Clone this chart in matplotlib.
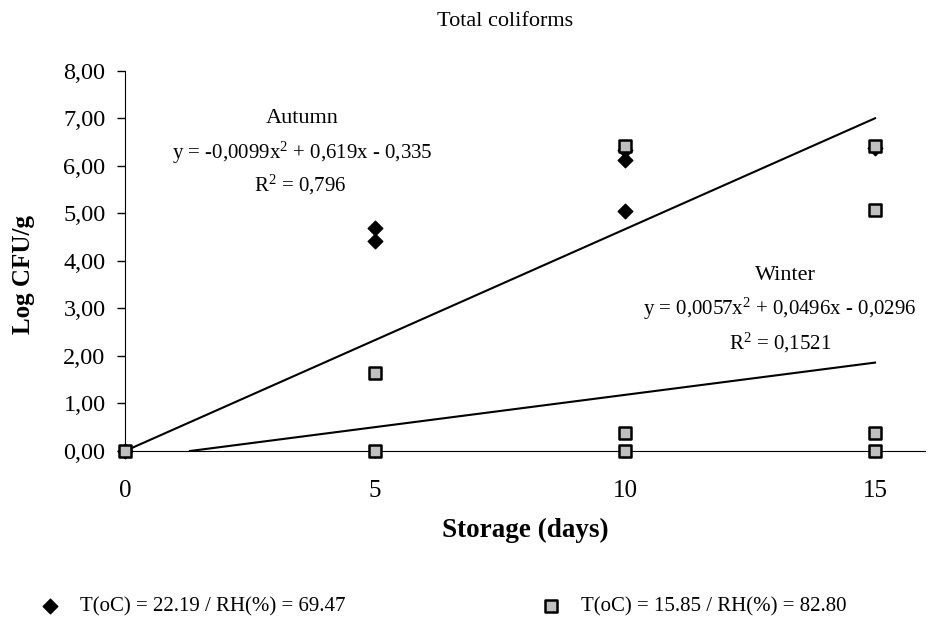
"""Total coliforms during storage: autumn vs winter, with trend lines."""
import matplotlib
matplotlib.use("Agg")
import matplotlib.pyplot as plt
from matplotlib.ticker import FuncFormatter

plt.rcParams["font.family"] = ["Liberation Serif", "DejaVu Serif"]
plt.rcParams["mathtext.fontset"] = "custom"
plt.rcParams["mathtext.rm"] = "Liberation Serif"
plt.rcParams["mathtext.it"] = "Liberation Serif:italic"

# autumn samples (T = 22.19 C, RH = 69.47 %)
autumn_days = [0, 5, 5, 10, 10, 10, 15]
autumn_log = [0.0, 4.70, 4.42, 6.33, 6.12, 5.05, 6.38]

# winter samples (T = 15.85 C, RH = 82.80 %)
winter_days = [0, 5, 5, 10, 10, 10, 15, 15, 15, 15]
winter_log = [0.0, 1.65, 0.0, 6.41, 0.37, 0.0, 6.41, 5.06, 0.37, 0.0]

# trend lines as drawn in the figure
autumn_fit_x = [0, 15]
autumn_fit_y = [0.0, 7.0]
winter_fit_x = [1.3, 15]
winter_fit_y = [0.0, 1.86]

y_ticks = [0, 1, 2, 3, 4, 5, 6, 7, 8]
x_ticks = [0, 5, 10, 15]

fig = plt.figure(figsize=(9.51, 6.22), dpi=100)
ax = fig.add_axes([0.1314, 0.2749, 0.8413, 0.6114])

ax.plot(autumn_fit_x, autumn_fit_y, color="black", lw=1.5, zorder=2)
ax.plot(winter_fit_x, winter_fit_y, color="black", lw=1.5, zorder=2)

ax.scatter(autumn_days, autumn_log, marker="D", s=55, color="black",
           zorder=3, clip_on=False,
           label="T(oC) = 22.19 / RH(%) = 69.47")
ax.scatter(winter_days, winter_log, marker="s", s=70, facecolor="#c0c0c0",
           edgecolor="black", linewidth=1.8, zorder=4, clip_on=False,
           label="T(oC) = 15.85 / RH(%) = 82.80")

ax.set_xlim(0, 16)
ax.set_ylim(0, 8)
ax.set_yticks(y_ticks)
ax.set_xticks(x_ticks)
ax.yaxis.set_major_formatter(FuncFormatter(lambda v, p: f"{v:.2f}".replace(".", ",")))
ax.spines["top"].set_visible(False)
ax.spines["right"].set_visible(False)
ax.tick_params(axis="y", direction="out", length=6, width=1, labelsize=17.5, pad=8)
ax.tick_params(axis="x", direction="out", length=5, width=1, labelsize=18, pad=16)

ax.set_xlabel("Storage (days)", fontsize=19.5, fontweight="bold")
ax.xaxis.set_label_coords(0.5, -0.175)
ax.set_ylabel("Log CFU/g", fontsize=18, fontweight="bold")
ax.yaxis.set_label_coords(-0.112, 0.463)
fig.text(0.531, 0.965, "Total coliforms", ha="center", va="center", fontsize=16)

ax.text(3.55, 7.0, "Autumn", ha="center", va="center", fontsize=16)
ax.text(3.55, 6.27, r"y = -0,0099x$^2$ + 0,619x - 0,335", ha="center", va="center",
        fontsize=15)
ax.text(3.5, 5.6, r"R$^2$ = 0,796", ha="center", va="center", fontsize=15)

ax.text(13.2, 3.7, "Winter", ha="center", va="center", fontsize=16)
ax.text(13.1, 2.98, r"y = 0,0057x$^2$ + 0,0496x - 0,0296", ha="center", va="center",
        fontsize=15)
ax.text(13.1, 2.28, r"R$^2$ = 0,1521", ha="center", va="center", fontsize=15)

fig.legend(loc="center left", bbox_to_anchor=(0.0333, 0.0241), ncol=2, frameon=False,
           fontsize=15, handlelength=1.0, handletextpad=0.9, columnspacing=9.4,
           borderaxespad=0)

fig.savefig("out.png", dpi=100)
